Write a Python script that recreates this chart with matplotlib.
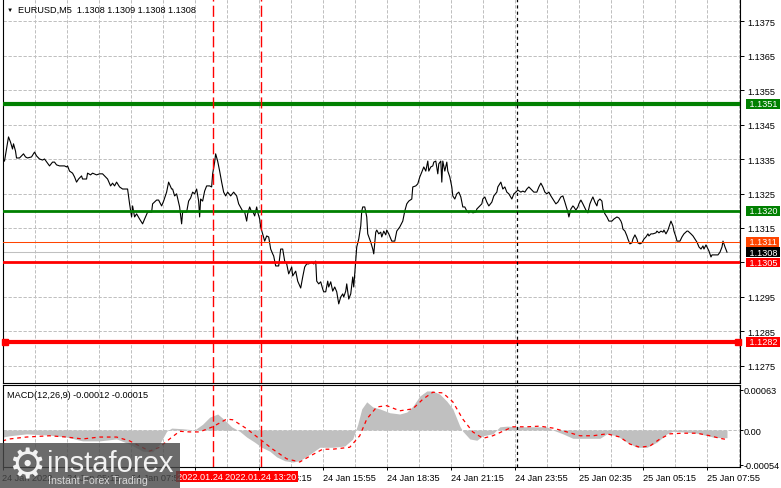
import matplotlib
matplotlib.use("Agg")
import matplotlib.pyplot as plt
from matplotlib.patches import Rectangle
from matplotlib.transforms import blended_transform_factory


# M5 closes, x = bar position counted from the first bar on the chart
bar_pos = [
    0, 1, 2, 3, 4, 5, 5.5, 6.5, 7, 8.5, 9.5, 10.5, 11.5, 12.5, 14.5, 16, 17, 18.5, 20, 21,
    22.5, 23.5, 25, 26, 27, 28.5, 31, 32, 32.5, 33.5, 35, 36, 37, 38, 39.5, 40, 42, 42.5, 44, 45,
    47, 48.5, 50, 51.5, 52.5, 54, 55, 56, 57, 58.5, 60, 61,
    62.5, 63.5, 64.5, 65, 66, 67, 68.5, 70, 71, 72.5, 74.5, 75, 77, 78, 79.5, 80.5, 82, 83, 84.5, 85,
    86, 87, 88.5, 89.5, 90, 92, 93, 94, 95, 96, 97, 98, 98.5, 99, 100, 101, 102, 103.5, 104.5, 105,
    106, 106.5, 107.5, 108.5, 109.5, 110.5, 111.5, 112.5, 114, 115.5, 117, 118,
    120, 121, 122, 122.5, 123.5, 124.5, 125, 126, 127, 127.5, 128.5, 129, 130, 131, 132, 133, 134, 135,
    135.5, 136.5, 138, 139, 140, 141, 142, 143, 144.5, 145, 146.5, 147.5, 149, 150, 151, 152, 153,
    154.5, 155.5, 156.5, 157, 158, 159, 160, 160.5, 161.5, 162.5, 163, 164, 165, 166, 167, 168, 169,
    170, 170.5, 171.5, 172, 173, 174, 175, 175.5, 176.5, 177, 178, 179, 179.5, 180, 181,
    182, 182.5, 184, 185, 185.5, 186.5, 187, 188, 189, 189.5, 190.5, 191.5, 192, 193, 194.5, 196, 197,
    198.5, 200, 201, 202, 203, 204.5, 205, 206.5, 207.5, 208.5, 209.5, 210.5, 211.5, 212.5, 213, 214,
    215, 215.5, 216.5, 217.5, 218, 219, 219.5, 220, 221, 222, 222.5, 223.5, 224.5, 225, 226, 227, 228,
    229, 230, 231, 232, 233, 234, 235, 236.5, 237, 238, 239.5, 240, 241,
    242, 243, 244.5, 245.5, 247, 247.5, 249, 250, 251, 252, 253, 254.5, 255.5, 256.5, 257.5, 259, 260,
    261, 262, 263, 264.5, 265.5, 267, 268, 269, 270, 271, 272, 273, 274, 275, 276.5, 277.5, 279, 280,
    281, 282, 282.5, 283, 284, 285, 285.5, 286.5, 287.5, 288, 289, 290, 291.5, 292.5, 293.5, 294.5,
    295, 296, 297, 297.5, 298.5, 299.5,
    300, 301, 302, 303, 304.5, 305.5, 307, 308, 309, 309.5, 310, 311, 312, 312.5, 313.5, 314.5, 315,
    316, 317, 317.5, 318.5, 319.5, 320.5, 321.5, 322.5, 323, 324, 325, 326.5, 327, 328, 329, 330,
    330.5, 331.5, 332.5, 333, 334, 335, 335.5, 336.5, 337, 338.5, 339.5, 340.5, 342, 342.5, 344, 345,
    346, 347, 348, 349, 350, 350.5, 351.5, 352.5, 353, 354, 354.5, 356, 357.5, 358.5, 359.5, 360, 361, 362,
]
close = [
    1.13344, 1.13344, 1.13379, 1.13414, 1.13399, 1.13379, 1.13394, 1.13373, 1.13353, 1.13353,
    1.13359, 1.13365, 1.13356, 1.13353, 1.13356, 1.13370, 1.13359, 1.13350, 1.13347, 1.13350,
    1.13338, 1.13330, 1.13341, 1.13341, 1.13333, 1.13330, 1.13330, 1.13327, 1.13330, 1.13315,
    1.13309, 1.13298, 1.13283, 1.13292, 1.13301, 1.13292, 1.13292, 1.13309, 1.13304, 1.13309,
    1.13304, 1.13307, 1.13307, 1.13298, 1.13292, 1.13272, 1.13280, 1.13272, 1.13283, 1.13269,
    1.13263, 1.13263,
    1.13263, 1.13220, 1.13182, 1.13214, 1.13182, 1.13191, 1.13176, 1.13162, 1.13176, 1.13196,
    1.13196, 1.13220, 1.13231, 1.13231, 1.13214, 1.13228, 1.13254, 1.13283, 1.13263, 1.13263,
    1.13243, 1.13249, 1.13211, 1.13162, 1.13196, 1.13196, 1.13228, 1.13237, 1.13254, 1.13249,
    1.13263, 1.13228, 1.13182, 1.13234, 1.13228, 1.13257, 1.13272, 1.13272, 1.13269, 1.13307,
    1.13341, 1.13365, 1.13344, 1.13315, 1.13283, 1.13254, 1.13243, 1.13254, 1.13243, 1.13254,
    1.13243, 1.13220,
    1.13199, 1.13196, 1.13170, 1.13191, 1.13211, 1.13196, 1.13199, 1.13185, 1.13211, 1.13196,
    1.13176, 1.13153, 1.13133, 1.13112, 1.13127, 1.13124, 1.13089, 1.13075, 1.13069, 1.13040,
    1.13040, 1.13089, 1.13089, 1.13054, 1.13046, 1.13017, 1.13037, 1.13011, 1.13025, 1.12996,
    1.12976, 1.13008, 1.13037, 1.13046, 1.13046, 1.13051, 1.13046, 1.13054, 1.12996, 1.12988,
    1.12994, 1.12973, 1.12965, 1.12965, 1.12996, 1.12979, 1.12994, 1.12967, 1.12979, 1.12965,
    1.12930, 1.12950, 1.12959, 1.12950, 1.12967, 1.12988, 1.12944, 1.12959, 1.13008, 1.12979,
    1.13054, 1.13095, 1.13118, 1.13156, 1.13199, 1.13211, 1.13211,
    1.13182, 1.13133, 1.13109, 1.13089, 1.13075, 1.13138, 1.13144, 1.13133, 1.13138, 1.13124,
    1.13141, 1.13130, 1.13144, 1.13133, 1.13112, 1.13112, 1.13141, 1.13153, 1.13170, 1.13199,
    1.13220, 1.13228, 1.13234, 1.13269, 1.13272, 1.13278, 1.13298, 1.13312, 1.13327, 1.13315,
    1.13344, 1.13315, 1.13327, 1.13330, 1.13341, 1.13344, 1.13307, 1.13336, 1.13344, 1.13283,
    1.13344, 1.13315, 1.13341, 1.13315, 1.13298, 1.13269, 1.13243, 1.13234, 1.13249, 1.13254,
    1.13240, 1.13211, 1.13211, 1.13199, 1.13194, 1.13199, 1.13194, 1.13196, 1.13205, 1.13211,
    1.13220, 1.13234, 1.13240,
    1.13225, 1.13214, 1.13225, 1.13243, 1.13254, 1.13269, 1.13283, 1.13263, 1.13269, 1.13254,
    1.13249, 1.13234, 1.13249, 1.13254, 1.13260, 1.13254, 1.13257, 1.13254, 1.13263, 1.13269,
    1.13260, 1.13254, 1.13254, 1.13269, 1.13280, 1.13269, 1.13254, 1.13249, 1.13254, 1.13243,
    1.13234, 1.13220, 1.13225, 1.13240, 1.13243, 1.13225, 1.13205, 1.13196, 1.13182, 1.13205,
    1.13214, 1.13211, 1.13202, 1.13211, 1.13220, 1.13231, 1.13220, 1.13202, 1.13194, 1.13220,
    1.13234, 1.13240, 1.13225, 1.13214, 1.13228, 1.13234, 1.13228,
    1.13205, 1.13191, 1.13182, 1.13170, 1.13170, 1.13176, 1.13182, 1.13179, 1.13170, 1.13162,
    1.13147, 1.13141, 1.13127, 1.13118, 1.13104, 1.13107, 1.13118, 1.13130, 1.13118, 1.13107,
    1.13104, 1.13107, 1.13118, 1.13124, 1.13133, 1.13127, 1.13133, 1.13133, 1.13136, 1.13141,
    1.13136, 1.13141, 1.13138, 1.13144, 1.13133, 1.13144, 1.13153, 1.13170, 1.13156, 1.13141,
    1.13124, 1.13112, 1.13112, 1.13124, 1.13133, 1.13141, 1.13141, 1.13133, 1.13127, 1.13118,
    1.13109, 1.13095, 1.13089, 1.13098, 1.13089, 1.13101, 1.13089, 1.13083, 1.13066, 1.13072,
    1.13072, 1.13072, 1.13080, 1.13095, 1.13112, 1.13095, 1.13080,
]
assert len(bar_pos) == len(close)

# MACD(12,26,9): main values (grey histogram) and signal (red dotted)
macd_bar = [0, 3.5, 12, 23.5, 32, 40, 48.5, 57, 63.5, 70, 75, 78.5, 82, 84.5, 90, 96, 100, 103.5,
            107.5, 110.5, 114.5, 118.5, 122, 126, 129.5, 133.5, 137, 141, 145, 148.5, 153.5, 158.5,
            165, 171, 175, 177.5, 179.5, 182, 185, 188.5, 193.5, 198.5, 202, 205, 208.5, 212, 215,
            218.5, 222, 225, 228.5, 230, 233.5, 237, 240, 245, 248.5, 252, 258.5, 265, 272, 275,
            280, 285, 292, 298.5, 302, 307, 312, 317, 322, 327, 332, 335, 340, 347, 351, 355, 359, 362]
macd_main = [-0.00011, -0.00009, -0.00006, -0.00008, -0.00011, -0.00017, -0.00017, -0.00014,
             -0.00022, -0.00033, -0.00034, -0.00022, -0.00002, 0.00003, 0.00002, 0.0, 0.00009,
             0.00020, 0.00025, 0.00017, 0.00005, -0.00002, -0.00011, -0.00019, -0.00027, -0.00033,
             -0.00042, -0.00048, -0.00050, -0.00048, -0.00038, -0.00027, -0.00027, -0.00025,
             -0.00014, 0.00009, 0.00033, 0.00044, 0.00036, 0.00033, 0.00027, 0.00025, 0.00028,
             0.00037, 0.00053, 0.00061, 0.00061, 0.00056, 0.00045, 0.00033, 0.00006, -0.00002,
             -0.00014, -0.00016, -0.00009, -0.00006, 0.00005, 0.00006, 0.00005, 0.00005, 0.00005,
             0.0, -0.00006, -0.00013, -0.00013, -0.00013, -0.00006, -0.00009, -0.00019, -0.00027,
             -0.00027, -0.00019, -0.00006, -0.00002, -0.00003, -0.00005, -0.00008, -0.00011,
             -0.00012, -0.00012]
signal_bar = [0, 3.5, 12, 23.5, 32, 40, 48.5, 57, 63.5, 68.5, 73.5, 78.5, 83.5, 88.5, 93.5, 98.5,
              105, 112, 115, 122, 128.5, 135, 142, 148.5, 153.5, 160, 165, 173.5, 178.5, 182, 187,
              192, 198.5, 205, 210, 215, 220, 225, 230, 235, 240, 245, 250, 255, 262, 268.5, 275,
              282, 288.5, 295, 302, 308.5, 313.5, 318.5, 323.5, 328.5, 333.5, 340, 347, 353.5,
              358.5, 362]
macd_signal = [-0.00017, -0.00014, -0.00011, -0.00009, -0.00011, -0.00014, -0.00011, -0.00011,
               -0.00017, -0.00025, -0.00033, -0.00027, -0.00014, -0.00002, -0.00003, -0.00003,
               0.00005, 0.00017, 0.00016, 0.00002, -0.00014, -0.00030, -0.00045, -0.00050,
               -0.00041, -0.00030, -0.00030, -0.00027, -0.00009, 0.00017, 0.00036, 0.00038,
               0.00030, 0.00033, 0.00048, 0.00059, 0.00058, 0.00044, 0.00017, -0.00003, -0.00013,
               -0.00009, -0.00002, 0.00005, 0.00005, 0.00006, 0.00003, -0.00003, -0.00009,
               -0.00009, -0.00006, -0.00011, -0.00022, -0.00027, -0.00025, -0.00014, -0.00006,
               -0.00005, -0.00005, -0.00009, -0.00013, -0.00015]

price_ticks = [1.1275, 1.1285, 1.1295, 1.1305, 1.1315, 1.1325, 1.1335, 1.1345, 1.1355, 1.1365, 1.1375]
macd_ticks = [-0.00054, 0.0, 0.00063]
macd_tick_labels = ["-0.00054", "0.00", "0.00063"]

time_label_bars = [0, 32, 64, 96, 128, 160, 192, 224, 256, 288, 320, 352]
time_labels = ["24 Jan 2022", "24 Jan 05:15", "24 Jan 07:55", "24 Jan 10:35", "24 Jan 13:15",
               "24 Jan 15:55", "24 Jan 18:35", "24 Jan 21:15", "24 Jan 23:55", "25 Jan 02:35",
               "25 Jan 05:15", "25 Jan 07:55"]

green_levels = [1.1351, 1.1320]
red_levels = [1.1305, 1.1282]
orange_level = 1.1311
bid_price = 1.1308

event_bars = [105, 129]
event_labels = ["2022.01.24 11:20", "2022.01.24 13:20"]
day_separator_bar = 257

title = "EURUSD,M5  1.1308 1.1309 1.1308 1.1308"
macd_title = "MACD(12,26,9) -0.00012 -0.00015"

N_BARS_VISIBLE = 368.5
GRID_EVERY = 16
GRID_COLOR = "#c0c0c0"
GRID_LS = (0, (3.3, 1.7))
FS = 6.6

plt.rcParams["font.family"] = ["Liberation Sans", "DejaVu Sans"]

W, H = 781, 489
fig = plt.figure(figsize=(W / 100, H / 100), dpi=100)


def add_axes_px(left, top, right, bottom):
    return fig.add_axes([left / W, 1 - bottom / H, (right - left) / W, (bottom - top) / H])


ax = add_axes_px(2.5, 0, 740, 384)
ax2 = add_axes_px(2.5, 386, 740, 468)

for a in (ax, ax2):
    a.set_xlim(0, N_BARS_VISIBLE)
    for s in a.spines.values():
        s.set_color("black")
        s.set_linewidth(0.8)
    for k in range(1, int(N_BARS_VISIBLE // GRID_EVERY) + 1):
        a.axvline(k * GRID_EVERY, color=GRID_COLOR, ls=GRID_LS, lw=0.72, zorder=0.5)
    for b in event_bars:
        a.axvline(b, color="red", ls=(0, (8, 3)), lw=1.0, zorder=4)
    a.axvline(day_separator_bar, color="black", ls=(0, (2.5, 2.5)), lw=0.9, zorder=4)
    a.yaxis.tick_right()
    a.tick_params(axis="y", which="both", left=False, right=True, labelleft=False,
                  labelright=True, length=3, width=0.7, pad=2, labelsize=FS)

ax.spines["top"].set_visible(False)
ax2.tick_params(axis="y", length=2, pad=0.8)

# ---- price panel
ax.set_ylim(1.127007, 1.138138)
ax.set_yticks(price_ticks)
ax.set_yticklabels([f"{p:.4f}" for p in price_ticks])
ax.set_xticks([])
for p in price_ticks:
    ax.axhline(p, color=GRID_COLOR, ls=GRID_LS, lw=0.72, zorder=0.5)

ax.plot(bar_pos, close, color="black", lw=0.8, zorder=2)

ax.axhline(green_levels[0], color="#008000", lw=3.0, zorder=3)
ax.axhline(green_levels[1], color="#008000", lw=2.0, zorder=3)
ax.axhline(orange_level, color="#ff4500", lw=0.75, zorder=3)
ax.axhline(bid_price, color="#c0c0c0", lw=0.75, zorder=1.5)
ax.axhline(red_levels[0], color="red", lw=2.0, zorder=3)
ax.plot([1.25, 367.5], [red_levels[1]] * 2, color="red", lw=3.0, marker="s", ms=5,
        clip_on=False, zorder=3)

label_tr = blended_transform_factory(ax.transAxes, ax.transData)
tag_x = 1 + 6.5 / 737.5
price_tags = [
    (green_levels[0], "#008000"),
    (green_levels[1], "#008000"),
    (orange_level, "#ff4500"),
    (bid_price, "black"),
    (red_levels[0], "red"),
    (red_levels[1], "red"),
]
for price, col in price_tags:
    ax.text(tag_x, price, f" {price:.4f} ", transform=label_tr, ha="left", va="center",
            fontsize=FS, color="white", clip_on=False, zorder=6,
            bbox=dict(boxstyle="square,pad=0.05", fc=col, ec="none"))

# ---- MACD panel
ax2.set_ylim(-0.000578, 0.000703)
ax2.set_yticks(macd_ticks)
ax2.set_yticklabels(macd_tick_labels)
ax2.axhline(0, color=GRID_COLOR, ls=GRID_LS, lw=0.72, zorder=0.5)
ax2.fill_between(macd_bar, 0, macd_main, color="#c0c0c0", lw=0, zorder=1)
ax2.plot(signal_bar, macd_signal, color="red", ls=(0, (3, 3)), lw=0.9, zorder=2)

ax2.set_xticks(time_label_bars)
ax2.set_xticklabels(time_labels, ha="left")
ax2.tick_params(axis="x", length=2.5, width=0.7, pad=2, labelsize=FS)

ev_tr = blended_transform_factory(ax2.transData, fig.transFigure)
for i, (b, lab) in enumerate(zip(event_bars, event_labels)):
    ax2.text(b, 1 - 477.5 / H, lab, transform=ev_tr, ha="center", va="center", fontsize=FS,
             color="white", clip_on=False, zorder=6 + i,
             bbox=dict(boxstyle="square,pad=0.15", fc="red", ec="none"))

# ---- texts
fig.text(10 / W, 1 - 10.5 / H, "\u25bc", fontsize=4.5, ha="center", va="center")
fig.text(18 / W, 1 - 10.5 / H, title, fontsize=FS, ha="left", va="center")
fig.text(7 / W, 1 - 395.5 / H, macd_title, fontsize=FS, ha="left", va="center")

# ---- watermark
fig.add_artist(Rectangle((0, 0), 180 / W, 45 / H, transform=fig.transFigure,
                         fc="#4a4a4a", ec="none", alpha=0.82, zorder=10))
fig.text(27 / W, 1 - 466 / H, "\u2699", family="DejaVu Sans", fontsize=30,
         color="#f2f2f2", ha="center", va="center", zorder=11)
fig.text(47 / W, 1 - 472 / H, "instaforex", fontsize=21, color="#f2f2f2",
         ha="left", va="baseline", zorder=11)
fig.text(48 / W, 1 - 484 / H, "Instant Forex Trading", fontsize=7.6, color="#d8d8d8",
         ha="left", va="baseline", zorder=11)

fig.savefig("out.png", dpi=100)
